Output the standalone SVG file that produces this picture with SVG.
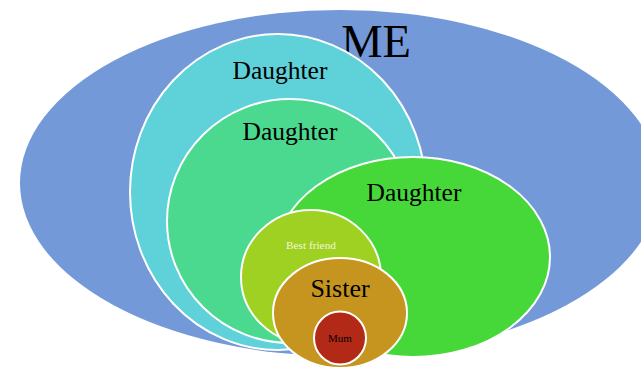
<svg xmlns="http://www.w3.org/2000/svg" width="641" height="368" viewBox="0 0 641 368">
<style>
.n{stroke:#fff;stroke-width:2}
.t{font-family:"Liberation Serif","DejaVu Serif",serif;text-anchor:middle;fill:#000}
.d{font-size:25.5px}
</style>
<rect width="641" height="368" fill="#fff"/>
<g id="me"><ellipse cx="340" cy="183" rx="320" ry="173" fill="#7499d8"/><text class="t" x="376" y="57" font-size="46.5">ME</text></g>
<g id="daughter1"><ellipse class="n" cx="278" cy="192" rx="148" ry="158" fill="#5fd1d8"/><text class="t d" x="280" y="79">Daughter</text></g>
<g id="daughter2"><ellipse class="n" cx="290" cy="221" rx="123" ry="122" fill="#4bd98f"/><text class="t d" x="290" y="140">Daughter</text></g>
<g id="daughter3"><ellipse class="n" cx="413" cy="257" rx="137" ry="100" fill="#45d838"/><text class="t d" x="414" y="201">Daughter</text></g>
<g id="bestfriend"><ellipse class="n" cx="311" cy="277" rx="70" ry="67" fill="#9fd122"/><text class="t" x="311" y="249" font-size="11.3" style="fill:#f2f6dc">Best friend</text></g>
<g id="sister"><ellipse class="n" cx="340" cy="313" rx="67" ry="55" fill="#c5951f"/><text class="t" x="340" y="297" font-size="26">Sister</text></g>
<g id="mum"><ellipse class="n" cx="340" cy="338" rx="26" ry="26.5" fill="#b22a17"/><text class="t" x="340" y="342" font-size="11">Mum</text></g>
<g id="connectors"/>
</svg>
